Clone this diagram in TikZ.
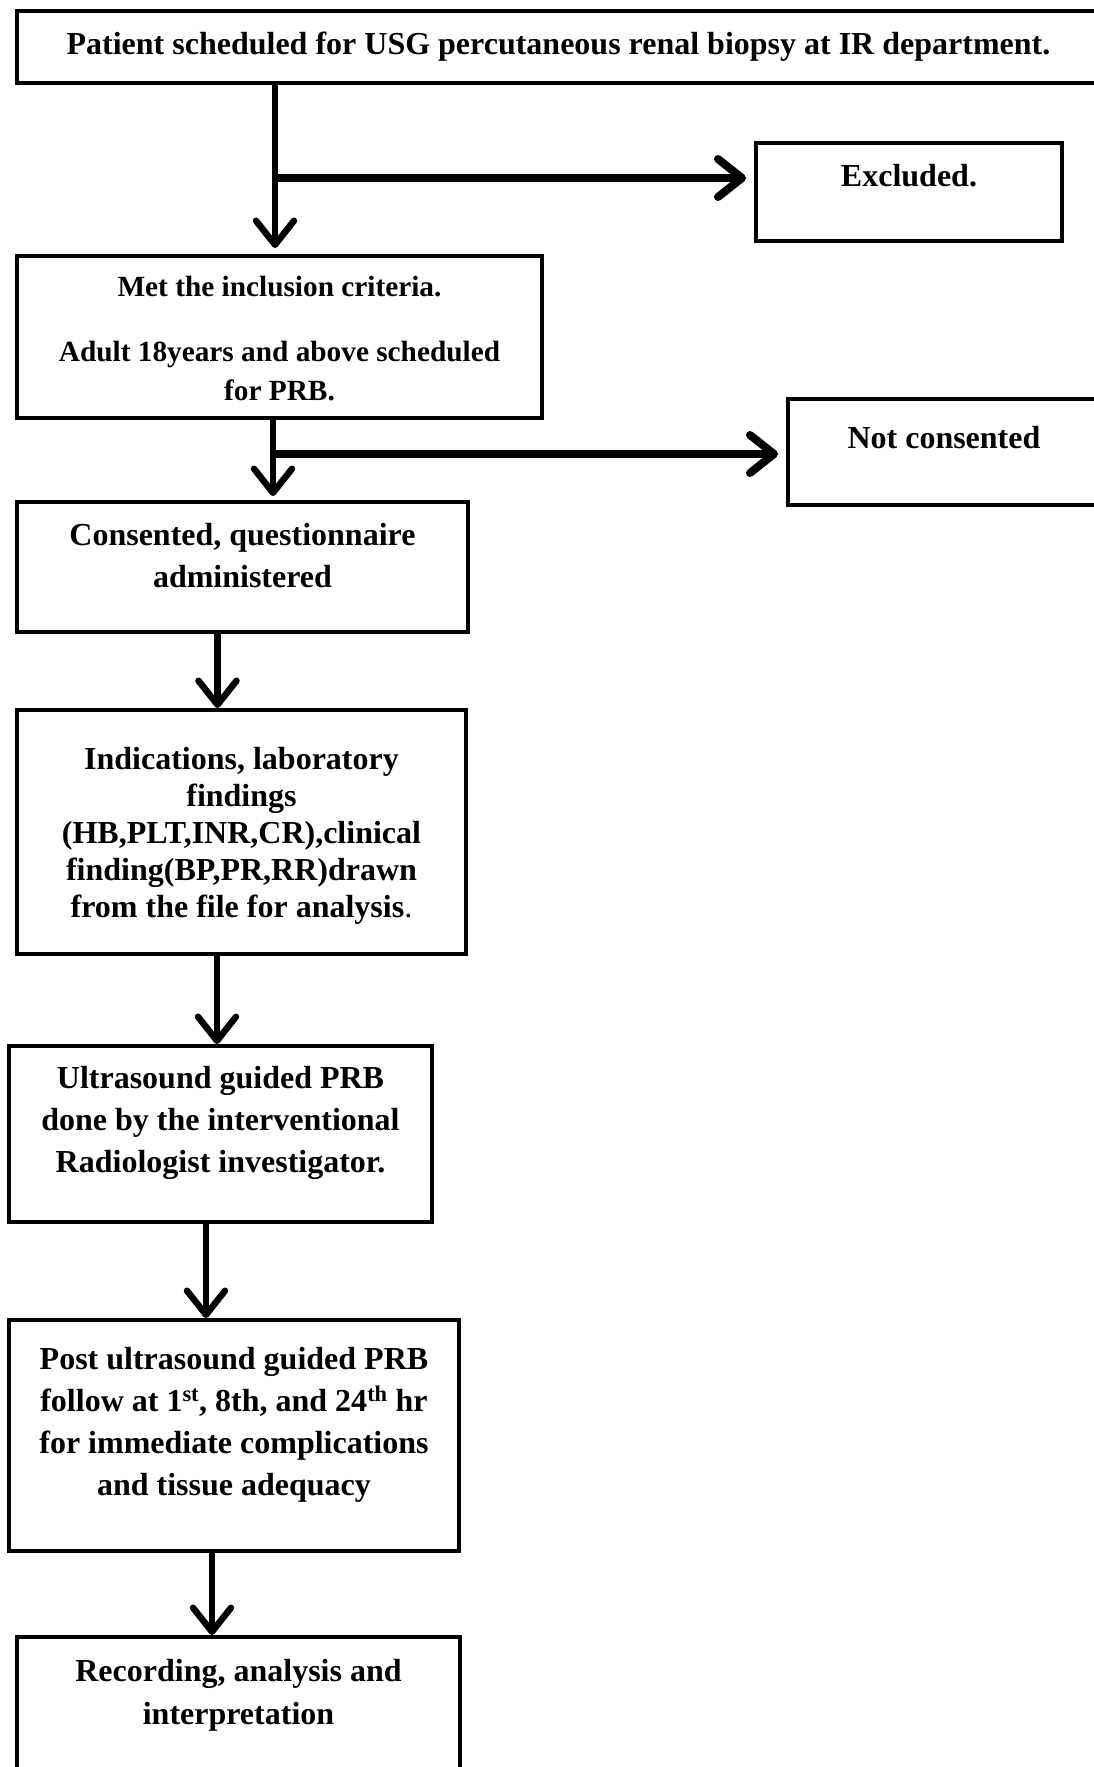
\documentclass[tikz,border=0pt]{standalone}
\usepackage{fontspec}
\setmainfont{Liberation Serif}
\usetikzlibrary{arrows.meta,positioning,calc}

% text of a box: height, width, first baseline, text
\newcommand{\boxtext}[4]{\parbox[c][#1][t]{#2}{\centering\rule{0pt}{#3}#4}}

\begin{document}
\begin{tikzpicture}[x=1pt,y=-1pt,
    box/.style={draw, line width=4pt, inner sep=0pt, rectangle,
      font=\fontsize{32}{42}\selectfont\bfseries},
    arr/.style={line width=6.5pt,
      -{Straight Barb[length=24pt,width=38pt,line cap=round,line join=round]}},
    side/.style={arr, line width=8pt, shorten >=8pt}]
    \useasboundingbox (0,0) rectangle (1094,1767);
    \clip (0,0) rectangle (1094,1767);

    \node[box] (top) at (558.5,47) {\boxtext{72pt}{1083pt}{43pt}{Patient scheduled for USG percutaneous renal biopsy at IR department.}};
    \node[box] (excl) at (909,192) {\boxtext{98pt}{306pt}{43pt}{Excluded.}};
    \node[box, font=\fontsize{29.3}{39}\selectfont\bfseries] (incl) at (279.5,337) {\boxtext{162pt}{525pt}{40pt}{Met the inclusion criteria.\\[26pt]
      Adult 18years and above scheduled\\ for PRB.}};
    \node[box] (notc) at (944,452) {\boxtext{106pt}{312pt}{49pt}{Not consented}};
    \node[box] (cons) at (242.5,567) {\boxtext{130pt}{451pt}{43pt}{Consented, questionnaire\\ administered}};
    \node[box, font=\fontsize{32}{37}\selectfont\bfseries] (ind) at (241.5,832) {\boxtext{244pt}{449pt}{59pt}{Indications, laboratory\\ findings\\ (HB,PLT,INR,CR),clinical\\ finding(BP,PR,RR)drawn\\ from the file for analysis{\mdseries .}}};
    \node[box] (us) at (220.5,1134) {\boxtext{176pt}{423pt}{42pt}{Ultrasound guided PRB\\ done by the interventional\\ Radiologist investigator.}};
    \node[box] (post) at (234,1435.5) {\boxtext{231pt}{450pt}{49pt}{Post ultrasound guided PRB\\ follow at 1\textsuperscript{st}, 8th, and 24\textsuperscript{th} hr\\ for immediate complications\\ and tissue adequacy}};
    \node[box, font=\fontsize{32}{43}\selectfont\bfseries] (rec) at (238.5,1713.5) {\boxtext{153pt}{443pt}{44pt}{Recording, analysis and\\ interpretation}};

    % branch points
    \coordinate (b1) at (275,178);
    \coordinate (b2) at (273,454);

    \draw[line width=6.5pt] (top.south -| b1) -- (b1);
    \draw[arr, shorten >=6pt] (b1) -- (incl.north -| b1);
    \draw[side] (b1) -- (excl.west |- b1);

    \draw[line width=6.5pt] (incl.south -| b2) -- (b2);
    \draw[arr, shorten >=4pt] (b2) -- (cons.north -| b2);
    \draw[side] (b2) -- (notc.west |- b2);

    \draw[arr] ([xshift=-25pt]cons.south) -- ([xshift=-25pt]cons.south |- ind.north);
    \draw[arr] ([xshift=-24.5pt]ind.south) -- ([xshift=-24.5pt]ind.south |- us.north);
    \draw[arr] ([xshift=-14.5pt]us.south) -- ([xshift=-14.5pt]us.south |- post.north);
    \draw[arr] ([xshift=-22pt]post.south) -- ([xshift=-22pt]post.south |- rec.north);
\end{tikzpicture}
\end{document}
